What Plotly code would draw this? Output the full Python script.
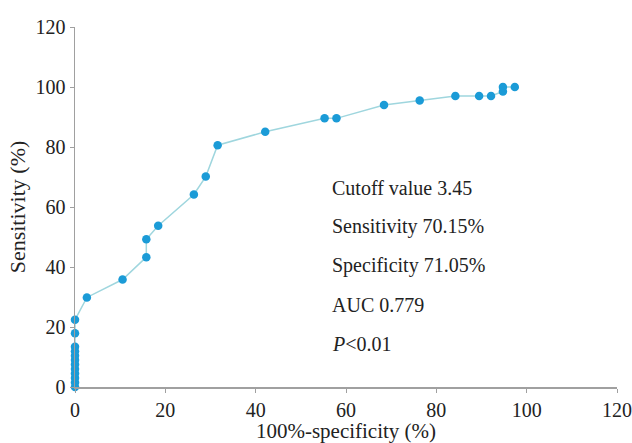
import plotly.graph_objects as go

# ROC curve points (100% - specificity, sensitivity)
fpr = [0, 0, 0, 0, 0, 0, 0, 0, 0, 0, 0, 0,
       2.63, 10.53, 15.79, 15.79, 18.42, 26.32, 28.95, 31.58, 42.11,
       55.26, 57.89, 68.42, 76.32, 84.21, 89.47, 92.11, 94.74, 94.74, 97.37]
tpr = [0, 1.49, 2.99, 4.48, 5.97, 7.46, 8.96, 10.45, 11.94, 13.43, 17.91, 22.39,
       29.85, 35.82, 43.28, 49.25, 53.73, 64.18, 70.15, 80.60, 85.07,
       89.55, 89.55, 94.03, 95.52, 97.01, 97.01, 97.01, 98.51, 100.0, 100.0]

stats_lines = ["Cutoff value 3.45", "Sensitivity 70.15%", "Specificity 71.05%",
               "AUC 0.779", "<i>P</i>&lt;0.01"]
tick_vals = [0, 20, 40, 60, 80, 100, 120]

FONT = "Liberation Serif, Times New Roman, serif"

fig = go.Figure()
fig.add_trace(go.Scatter(
    x=fpr, y=tpr, mode="lines+markers",
    line=dict(color="#9fd6de", width=1.5),
    marker=dict(color="#1b9bd7", size=8.5),
    hoverinfo="skip", showlegend=False, cliponaxis=False,
))

for i, t in enumerate(stats_lines):
    fig.add_annotation(x=56.5, y=66.5 - 13 * i, xref="x", yref="y", text=t,
                       showarrow=False, xanchor="left", yanchor="middle",
                       font=dict(family=FONT, size=20, color="#222"))

axis_common = dict(
    range=[0, 120], tickvals=tick_vals, showgrid=False, zeroline=False,
    showline=True, linecolor="#a0a0a0", linewidth=1.5, automargin=False,
    ticks="outside", ticklen=4, tickcolor="#a0a0a0", tickwidth=1,
    ticklabeloverflow="allow",
    tickfont=dict(family=FONT, size=20, color="#222"),
)
fig.update_xaxes(**axis_common,
                 title=dict(text="100%-specificity (%)", standoff=4,
                            font=dict(family=FONT, size=21, color="#222")))
fig.update_yaxes(**axis_common,
                 title=dict(text="Sensitivity (%)", standoff=4,
                            font=dict(family=FONT, size=22, color="#222")))

fig.update_layout(
    width=632, height=443,
    margin=dict(l=75, r=15, t=27, b=56),
    plot_bgcolor="white", paper_bgcolor="white",
)

fig.write_html(
    "out.html",
    config={"displayModeBar": False, "staticPlot": True},
    post_script="document.body.style.margin='0';document.body.style.overflow='hidden';",
)
